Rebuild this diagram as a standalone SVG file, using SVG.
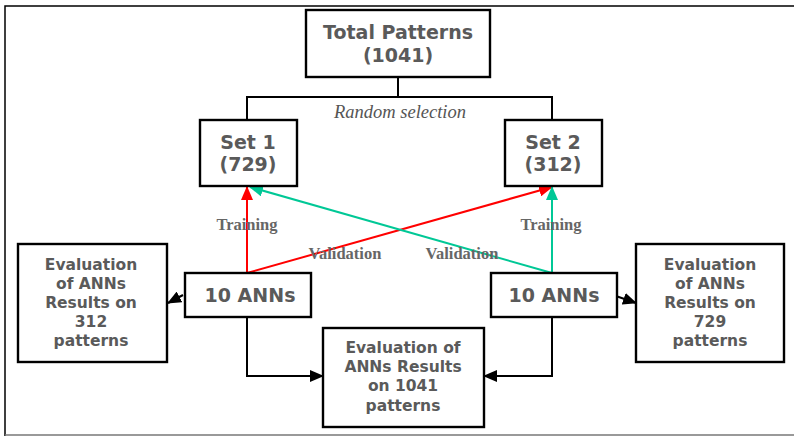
<svg xmlns="http://www.w3.org/2000/svg" width="794" height="436" viewBox="0 0 794 436">
  <style>
    .box { fill: #fff; stroke: #000; stroke-width: 2.4; }
    .t { font-family: "DejaVu Sans", Verdana, sans-serif; font-weight: bold; fill: #5a5a5a; text-anchor: middle; }
    .big { font-size: 19px; }
    .mid { font-size: 19px; }
    .sm { font-size: 15.5px; }
    .lbl { font-family: "Liberation Serif", "Times New Roman", serif; font-weight: bold; font-size: 16.5px; fill: #666; text-anchor: middle; }
    .ital { font-family: "Liberation Serif", "Times New Roman", serif; font-style: italic; font-size: 18.5px; fill: #555; text-anchor: middle; }
    .k { fill: none; stroke: #000; stroke-width: 2; }
    .r { fill: none; stroke: #ff0000; stroke-width: 2; }
    .g { fill: none; stroke: #00c896; stroke-width: 2; }
  </style>
  <defs>
    <marker id="ak" markerWidth="14" markerHeight="12" refX="13" refY="6" orient="auto" markerUnits="userSpaceOnUse">
      <path d="M0,0 L14,6 L0,12 Z" fill="#000"/>
    </marker>
    <marker id="ar" markerWidth="14" markerHeight="12" refX="13" refY="6" orient="auto" markerUnits="userSpaceOnUse">
      <path d="M0,0 L14,6 L0,12 Z" fill="#ff0000"/>
    </marker>
    <marker id="ag" markerWidth="14" markerHeight="12" refX="13" refY="6" orient="auto" markerUnits="userSpaceOnUse">
      <path d="M0,0 L14,6 L0,12 Z" fill="#00c896"/>
    </marker>
  </defs>

  <!-- page frame -->
  <path d="M5,436 L5,6 L794,6" fill="none" stroke="#000" stroke-width="1.5"/>
  <line x1="5" y1="435" x2="794" y2="435" stroke="#777" stroke-width="1.5"/>

  <g id="connectors">
    <!-- random split -->
    <path class="k" d="M398,77 L398,97 M247,97 L552,97 M247,96 L247,120 M552,96 L552,120"/>
    <!-- training / validation links -->
    <line class="r" x1="247" y1="273" x2="247" y2="187" marker-end="url(#ar)"/>
    <line class="r" x1="247" y1="273" x2="552" y2="187" marker-end="url(#ar)"/>
    <line class="g" x1="552" y1="273" x2="552" y2="187" marker-end="url(#ag)"/>
    <line class="g" x1="552" y1="273" x2="250" y2="187" marker-end="url(#ag)"/>
    <!-- evaluation links -->
    <line class="k" x1="183" y1="295" x2="168" y2="303" marker-end="url(#ak)"/>
    <line class="k" x1="613" y1="295" x2="636" y2="303" marker-end="url(#ak)"/>
    <path class="k" d="M247,317 L247,376 L323,376" marker-end="url(#ak)"/>
    <path class="k" d="M552,317 L552,376 L484,376" marker-end="url(#ak)"/>
    <text class="ital" x="400" y="118">Random selection</text>
    <text class="lbl" x="247" y="230">Training</text>
    <text class="lbl" x="551" y="230">Training</text>
    <text class="lbl" x="345" y="259">Validation</text>
    <text class="lbl" x="462" y="259">Validation</text>
  </g>

  <g id="total">
    <rect class="box" x="306" y="10" width="184" height="67"/>
    <text class="t big" x="398" y="39">Total Patterns</text>
    <text class="t big" x="398" y="62">(1041)</text>
  </g>
  <g id="set1">
    <rect class="box" x="200" y="120" width="97" height="66"/>
    <text class="t big" x="248" y="149">Set 1</text>
    <text class="t big" x="248" y="171">(729)</text>
  </g>
  <g id="set2">
    <rect class="box" x="505" y="120" width="97" height="66"/>
    <text class="t big" x="553" y="149">Set 2</text>
    <text class="t big" x="553" y="171">(312)</text>
  </g>
  <g id="anns1">
    <rect class="box" x="185" y="273" width="126" height="44"/>
    <text class="t mid" x="250" y="302">10 ANNs</text>
  </g>
  <g id="anns2">
    <rect class="box" x="491" y="273" width="126" height="44"/>
    <text class="t mid" x="554" y="302">10 ANNs</text>
  </g>
  <g id="eval312">
    <rect class="box" x="18" y="244" width="149" height="118"/>
    <text class="t sm" x="91" y="270">Evaluation</text>
    <text class="t sm" x="91" y="289">of ANNs</text>
    <text class="t sm" x="91" y="308">Results on</text>
    <text class="t sm" x="91" y="327">312</text>
    <text class="t sm" x="91" y="346">patterns</text>
  </g>
  <g id="eval729">
    <rect class="box" x="636" y="244" width="148" height="118"/>
    <text class="t sm" x="710" y="270">Evaluation</text>
    <text class="t sm" x="710" y="289">of ANNs</text>
    <text class="t sm" x="710" y="308">Results on</text>
    <text class="t sm" x="710" y="327">729</text>
    <text class="t sm" x="710" y="346">patterns</text>
  </g>
  <g id="eval1041">
    <rect class="box" x="323" y="328" width="161" height="99"/>
    <text class="t sm" x="403" y="353">Evaluation of</text>
    <text class="t sm" x="403" y="372">ANNs Results</text>
    <text class="t sm" x="403" y="391">on 1041</text>
    <text class="t sm" x="403" y="411">patterns</text>
  </g>
</svg>
